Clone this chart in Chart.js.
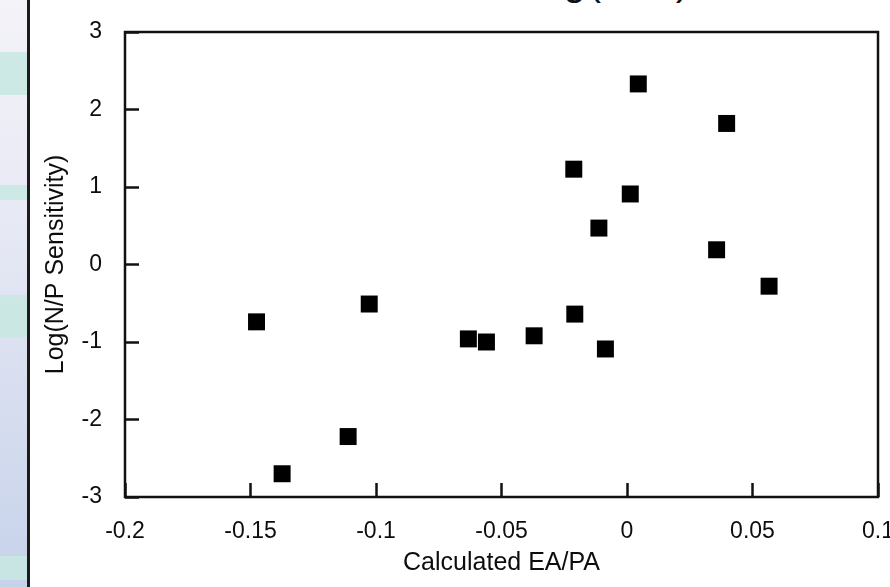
<!DOCTYPE html>
<html>
<head>
<meta charset="utf-8">
<script src="https://cdn.jsdelivr.net/npm/chart.js@4.4.0/dist/chart.umd.min.js"></script>
<style>
  html, body { margin: 0; padding: 0; background: #fff; overflow: hidden; }
  body { width: 890px; height: 587px; position: relative; font-family: "Liberation Sans", Arial, sans-serif; }
  #strip {
    position: absolute; left: 0; top: 0; width: 27px; height: 587px;
    border-right: 3px solid #1b1b1b;
    background:
      linear-gradient(to bottom,
        rgba(0,0,0,0) 0px, rgba(0,0,0,0) 52px,
        rgba(200,232,226,0.85) 52px, rgba(200,232,226,0.85) 95px,
        rgba(0,0,0,0) 95px, rgba(0,0,0,0) 185px,
        rgba(200,232,226,0.85) 185px, rgba(200,232,226,0.85) 200px,
        rgba(0,0,0,0) 200px, rgba(0,0,0,0) 295px,
        rgba(200,232,226,0.85) 295px, rgba(200,232,226,0.85) 337px,
        rgba(0,0,0,0) 337px, rgba(0,0,0,0) 556px,
        rgba(200,232,226,0.85) 556px, rgba(200,232,226,0.85) 580px,
        rgba(0,0,0,0) 580px),
      linear-gradient(to bottom, #f4f3f9 0%, #e6e8f4 40%, #c6d2ea 100%);
  }
  #toptitle {
    position: absolute; left: 515px; top: -39px; height: 40px; line-height: 40px;
    font-size: 40px; color: #111; white-space: nowrap; letter-spacing: 2px;
  }
  #wrap { position: absolute; left: 30px; top: 0; width: 860px; height: 587px; }
</style>
</head>
<body>
<div id="strip"></div>
<div id="toptitle">Log(N/P)</div>
<div id="wrap"><canvas id="chart" width="860" height="587"></canvas></div>
<script>
// Calculated EA/PA vs Log(N/P Sensitivity)
var eaPa = [-0.1476, -0.1374, -0.1111, -0.1027, -0.0632, -0.0560, -0.0370, -0.0208, -0.0212, -0.0112, -0.0086, 0.0013, 0.0045, 0.0357, 0.0397, 0.0566];
var logNP = [-0.74, -2.70, -2.22, -0.51, -0.96, -1.00, -0.92, -0.64, 1.23, 0.47, -1.09, 0.91, 2.33, 0.19, 1.82, -0.28];

var xTickValues = [-0.2, -0.15, -0.1, -0.05, 0, 0.05, 0.1];
var xTickLabels = ['-0.2', '-0.15', '-0.1', '-0.05', '0', '0.05', '0.1'];
var yTickValues = [-3, -2, -1, 0, 1, 2, 3];
var yTickLabels = ['-3', '-2', '-1', '0', '1', '2', '3'];

var points = eaPa.map(function (x, i) {
  return { x: x, y: logNP[i] };
});

// frame round the plot area (top and right sides have no ticks)
var framePlugin = {
  id: 'frame',
  afterDraw: function (chart) {
    var a = chart.chartArea;
    var ctx = chart.ctx;
    ctx.save();
    ctx.strokeStyle = '#111';
    ctx.lineWidth = 2.5;
    ctx.strokeRect(a.left, a.top, a.right - a.left, a.bottom - a.top);
    ctx.restore();
  }
};

var ctx = document.getElementById('chart').getContext('2d');
new Chart(ctx, {
  type: 'scatter',
  data: {
    datasets: [{
      data: points,
      pointStyle: 'rect',
      pointRadius: 12,
      pointHoverRadius: 12,
      backgroundColor: '#000',
      borderWidth: 0
    }]
  },
  options: {
    responsive: false,
    devicePixelRatio: 1,
    animation: false,
    events: [],
    layout: { padding: { top: 32, right: 9, left: 0, bottom: 0 } },
    plugins: {
      legend: { display: false },
      tooltip: { enabled: false }
    },
    scales: {
      x: {
        type: 'linear',
        min: -0.2,
        max: 0.1,
        afterBuildTicks: function (scale) {
          scale.ticks = xTickValues.map(function (v) { return { value: v }; });
        },
        afterFit: function (scale) {
          scale.height = 90;
          scale.paddingLeft = 0;
          scale.paddingRight = 0;
        },
        ticks: {
          padding: 35,
          color: '#0d0d0d',
          font: { family: 'Liberation Sans', size: 23 },
          maxRotation: 0,
          callback: function (v, i) { return xTickLabels[i]; }
        },
        grid: {
          drawOnChartArea: false,
          drawTicks: true,
          tickLength: -14,
          tickWidth: 2.5,
          tickColor: '#111'
        },
        border: { display: false },
        title: {
          display: true,
          text: 'Calculated EA/PA',
          color: '#0d0d0d',
          font: { family: 'Liberation Sans', size: 25 },
          padding: { top: 0, bottom: 9 }
        }
      },
      y: {
        type: 'linear',
        min: -3,
        max: 3,
        afterBuildTicks: function (scale) {
          scale.ticks = yTickValues.map(function (v) { return { value: v }; });
        },
        afterFit: function (scale) {
          scale.width = 95;
          scale.paddingTop = 0;
          scale.paddingBottom = 0;
        },
        ticks: {
          padding: 37,
          color: '#0d0d0d',
          font: { family: 'Liberation Sans', size: 23 },
          callback: function (v, i) { return yTickLabels[i]; }
        },
        grid: {
          drawOnChartArea: false,
          drawTicks: true,
          tickLength: -14,
          tickWidth: 2.5,
          tickColor: '#111'
        },
        border: { display: false },
        title: {
          display: true,
          text: 'Log(N/P Sensitivity)',
          color: '#0d0d0d',
          font: { family: 'Liberation Sans', size: 25 },
          padding: { top: 11, bottom: 0 }
        }
      }
    }
  },
  plugins: [framePlugin]
});
</script>
</body>
</html>
